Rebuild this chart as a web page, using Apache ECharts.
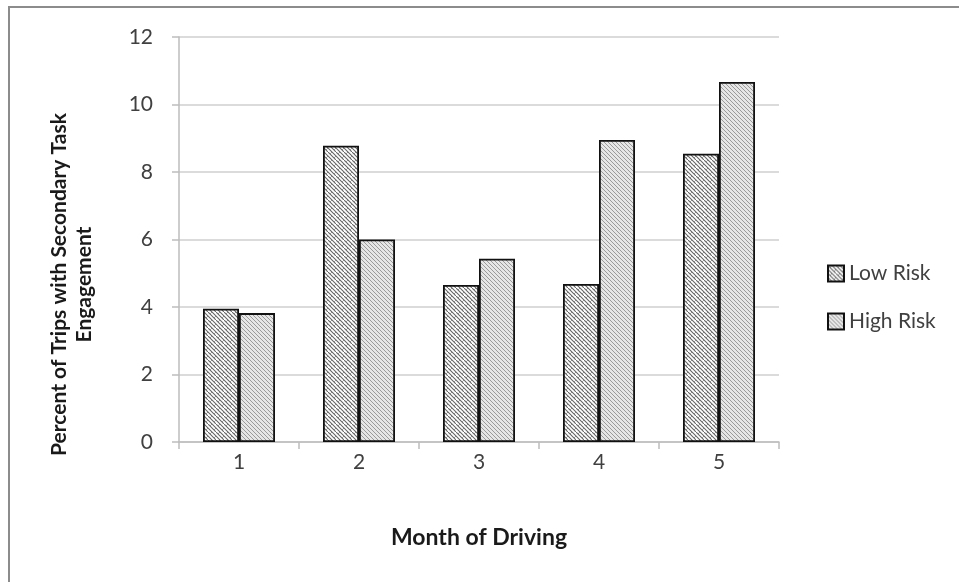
<!DOCTYPE html>
<html>
<head>
<meta charset="utf-8">
<script src="https://cdn.jsdelivr.net/npm/echarts@6/dist/echarts.min.js"></script>
<style>html,body{margin:0;padding:0;background:#fff}#c{width:959px;height:582px}</style>
</head>
<body>
<div id="c"></div>
<script>
var months = ['1', '2', '3', '4', '5'];
var lowRisk = [3.95, 8.78, 4.65, 4.68, 8.54];
var highRisk = [3.82, 6.0, 5.43, 8.95, 10.67];
var yTicks = [0, 2, 4, 6, 8, 10, 12];

function weave() {
  var c = document.createElement('canvas'); c.width = 8; c.height = 8;
  var g = c.getContext('2d');
  g.fillStyle = '#ffffff'; g.fillRect(0, 0, 8, 8);
  g.strokeStyle = '#666'; g.lineWidth = 1.1;
  g.beginPath();
  g.moveTo(-1, -1); g.lineTo(9, 9);
  g.moveTo(3, -1); g.lineTo(9, 5);
  g.moveTo(-1, 3); g.lineTo(5, 9);
  g.stroke();
  g.strokeStyle = '#888'; g.lineWidth = 0.9;
  g.beginPath();
  g.moveTo(4, 0); g.lineTo(2, 2);
  g.moveTo(8, 4); g.lineTo(6, 6);
  g.moveTo(0, 4); g.lineTo(-2, 6);
  g.moveTo(4, 8); g.lineTo(2, 10);
  g.stroke();
  return c;
}
function diag() {
  var c = document.createElement('canvas'); c.width = 4; c.height = 4;
  var g = c.getContext('2d');
  g.fillStyle = '#e6e6e6'; g.fillRect(0, 0, 4, 4);
  g.strokeStyle = '#9a9a9a'; g.lineWidth = 1;
  g.beginPath();
  g.moveTo(-1, 1); g.lineTo(3, 5);
  g.moveTo(1, -1); g.lineTo(5, 3);
  g.stroke();
  return c;
}

var chart = echarts.init(document.getElementById('c'), null, {renderer: 'canvas'});
var FONT = 'Lato, "Open Sans", sans-serif';
chart.setOption({
  animation: false,
  backgroundColor: '#ffffff',
  graphic: [{
    type: 'rect', shape: {x: 9, y: 7, width: 980, height: 620},
    style: {fill: 'none', stroke: '#8c8c8c', lineWidth: 2}, z: -1
  }],
  grid: {left: 179, right: 180, top: 37, bottom: 140},
  legend: {
    orient: 'vertical', left: 822, top: 258, itemGap: 27,
    itemWidth: 16, itemHeight: 16, icon: 'rect',
    textStyle: {fontFamily: FONT, fontSize: 21, color: '#404040'},
    data: ['Low Risk', 'High Risk']
  },
  xAxis: {
    type: 'category', data: months,
    name: 'Month of Driving', nameLocation: 'middle', nameGap: 84,
    nameTextStyle: {fontFamily: FONT, fontSize: 23, fontWeight: 'bold', color: '#1a1a1a'},
    axisLine: {lineStyle: {color: '#bdbdbd', width: 1.5}},
    axisTick: {show: true, length: 7, lineStyle: {color: '#bdbdbd', width: 1.5}},
    axisLabel: {fontFamily: FONT, fontSize: 21, color: '#404040', margin: 10}
  },
  yAxis: {
    type: 'value', min: 0, max: 12, interval: 2,
    name: 'Percent of Trips with Secondary Task\nEngagement',
    nameLocation: 'middle', nameGap: 82, nameRotate: 90,
    nameTextStyle: {fontFamily: FONT, fontSize: 21, fontWeight: 'bold', color: '#1a1a1a', lineHeight: 25,
      padding: [0, 90, 0, 0]},
    axisLine: {show: true, lineStyle: {color: '#bdbdbd', width: 1.5}},
    axisTick: {show: true, length: 7, lineStyle: {color: '#bdbdbd', width: 1.5}},
    axisLabel: {fontFamily: FONT, fontSize: 21, color: '#404040', margin: 26,
      formatter: function (v) { return yTicks.indexOf(v) >= 0 ? String(v) : ''; }},
    splitLine: {lineStyle: {color: '#cfcfcf', width: 1.5}}
  },
  series: [{
    name: 'Low Risk', type: 'bar', data: lowRisk,
    barGap: '0%', barCategoryGap: '40%',
    itemStyle: {color: {image: weave(), repeat: 'repeat'}, borderColor: '#111', borderWidth: 1.8}
  }, {
    name: 'High Risk', type: 'bar', data: highRisk,
    barGap: '0%', barCategoryGap: '40%',
    itemStyle: {color: {image: diag(), repeat: 'repeat'}, borderColor: '#111', borderWidth: 1.8}
  }]
});
</script>
</body>
</html>
